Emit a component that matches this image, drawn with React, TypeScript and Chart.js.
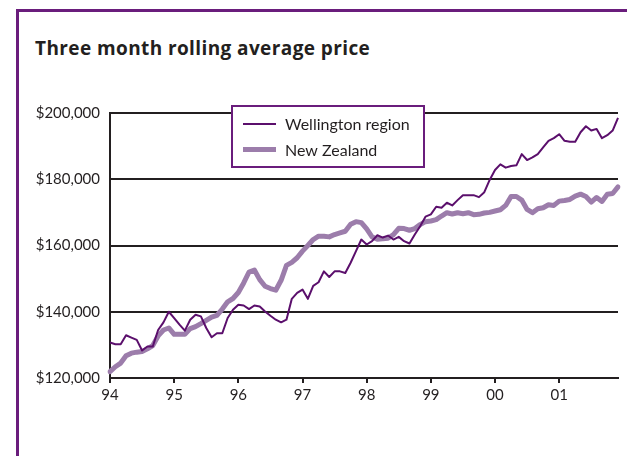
import React, { useEffect, useRef } from 'react';
import { Chart, registerables } from 'chart.js';

Chart.register(...registerables);

// ---- Data ----
const years = ['94', '95', '96', '97', '98', '99', '00', '01'];
const monthNames = ['Jan', 'Feb', 'Mar', 'Apr', 'May', 'Jun', 'Jul', 'Aug', 'Sep', 'Oct', 'Nov', 'Dec'];
const seriesNames = ['Wellington region', 'New Zealand'];
const chartTitle = 'Three month rolling average price';

const wellington = [
  130700, 130200, 130200, 132900, 132200, 131500, 128300, 129500, 129500, 134500, 136800, 140000,
  138100, 136100, 134300, 137600, 139100, 138600, 135100, 132300, 133500, 133500, 138100, 140600,
  142100, 141900, 140800, 141900, 141600, 140100, 138800, 137600, 136800, 137600, 143900, 145700,
  146700, 143900, 147800, 148900, 152200, 150500, 152200, 152200, 151700, 154800, 158300, 161800,
  160300, 161300, 163100, 162400, 163000, 161800, 162600, 161300, 160600, 163300, 165800, 168700,
  169400, 171700, 171400, 172900, 172100, 173700, 175200, 175200, 175200, 174600, 176100, 179800,
  182800, 184500, 183500, 184000, 184200, 187600, 185800, 186600, 187600, 189600, 191600, 192400,
  193600, 191600, 191300, 191300, 194200, 196000, 194700, 195200, 192400, 193300, 194700, 198500,
];

const newZealand = [
  121900, 123400, 124500, 126700, 127500, 127800, 128000, 128800, 129800, 132700, 134500, 135100,
  133200, 133200, 133200, 134900, 135500, 136400, 137400, 138400, 138900, 140800, 143000, 144000,
  145800, 148700, 152000, 152600, 149700, 147700, 147000, 146500, 149500, 154000, 154900, 156300,
  158300, 160000, 161800, 162800, 162800, 162600, 163300, 163800, 164300, 166400, 167200, 166900,
  165000, 162600, 161900, 162000, 162200, 163300, 165200, 165100, 164600, 165100, 166300, 167200,
  167400, 167800, 168900, 169900, 169500, 169900, 169600, 169900, 169300, 169400, 169800, 170000,
  170400, 170800, 172100, 174800, 174800, 173700, 170900, 169900, 171100, 171400, 172300, 172100,
  173400, 173600, 173900, 174900, 175500, 174800, 173100, 174500, 173300, 175500, 175700, 177700,
];

const yMin = 120000;
const yMax = 200000;
const yStep = 20000;

// ---- Styles ----
const INK = '#231f20';
const PURPLE = '#5b0f6c';
const LILAC = '#9c7dab';
const FRAME = '#6a1d7c';
const FONT = 'Lato, "Open Sans", sans-serif';
const TITLE_FONT = '"Open Sans", Lato, sans-serif';

const legendBox = {
  id: 'legendBox',
  afterDatasetsDraw(chart: any) {
    const { ctx, chartArea } = chart;
    const x = chartArea.left + 122;
    const y = chartArea.top - 7;
    const w = 192;
    const h = 61;
    ctx.save();
    ctx.fillStyle = '#ffffff';
    ctx.fillRect(x, y, w, h);
    ctx.strokeStyle = FRAME;
    ctx.lineWidth = 2;
    ctx.strokeRect(x, y, w, h);
    chart.data.datasets.forEach((ds: any, i: number) => {
      const ly = y + 18 + i * 25.5;
      ctx.strokeStyle = ds.borderColor;
      ctx.lineWidth = ds.borderWidth;
      ctx.lineCap = 'butt';
      ctx.beginPath();
      ctx.moveTo(x + 11, ly);
      ctx.lineTo(x + 44, ly);
      ctx.stroke();
      ctx.fillStyle = INK;
      ctx.font = `16px ${FONT}`;
      ctx.textBaseline = 'middle';
      ctx.textAlign = 'left';
      ctx.fillText(ds.label, x + 53, ly + 1);
    });
    ctx.restore();
  },
};

export default function App() {
  const ref = useRef<HTMLCanvasElement>(null);

  useEffect(() => {
    const labels = years.flatMap((y) => monthNames.map((m) => `${m} ${y}`));
    const chart = new Chart(ref.current as HTMLCanvasElement, {
      type: 'line',
      data: {
        labels,
        datasets: [
          {
            label: seriesNames[0],
            data: wellington,
            borderColor: PURPLE,
            borderWidth: 2,
            pointRadius: 0,
            tension: 0,
            order: 0,
            borderJoinStyle: 'round',
          },
          {
            label: seriesNames[1],
            data: newZealand,
            borderColor: LILAC,
            borderWidth: 5,
            pointRadius: 0,
            tension: 0,
            order: 1,
            borderJoinStyle: 'round',
            borderCapStyle: 'round',
          },
        ],
      },
      options: {
        responsive: false,
        animation: false,
        devicePixelRatio: 1,
        layout: { padding: { left: 34, right: 9, top: 113, bottom: 0 } },
        plugins: {
          legend: { display: false },
          tooltip: { enabled: false },
          title: { display: false },
        },
        scales: {
          x: {
            type: 'category',
            afterBuildTicks: (s: any) => {
              s.ticks = s.ticks.filter((t: any) => t.value % 12 === 0);
            },
            afterFit: (s: any) => {
              s.height = 78;
            },
            grid: { drawOnChartArea: false, drawTicks: true, tickLength: 5, color: INK, lineWidth: 2 },
            border: { display: true, color: INK, width: 2 },
            ticks: {
              autoSkip: false,
              maxRotation: 0,
              padding: 3,
              color: INK,
              font: { family: FONT, size: 15 },
              callback: (v: any) => years[Number(v) / 12],
            },
          },
          y: {
            min: yMin,
            max: yMax,
            afterFit: (s: any) => {
              s.width = 76;
            },
            grid: { color: INK, lineWidth: 2, drawTicks: false },
            border: { display: true, color: INK, width: 2 },
            ticks: {
              stepSize: yStep,
              padding: 10,
              color: INK,
              font: { family: FONT, size: 15 },
              callback: (v: any) => '$' + Number(v).toLocaleString('en-US'),
            },
          },
        },
      },
      plugins: [legendBox],
    });
    return () => chart.destroy();
  }, []);

  return (
    <div
      style={{
        position: 'absolute',
        left: 0,
        top: 0,
        width: 627,
        height: 456,
        overflow: 'hidden',
        background: '#fff',
      }}
    >
      <div
        style={{
          position: 'absolute',
          left: 16,
          top: 9,
          width: 700,
          height: 500,
          borderLeft: `3px solid ${FRAME}`,
          borderTop: `3px solid ${FRAME}`,
        }}
      />
      <div
        style={{
          position: 'absolute',
          left: 35,
          top: 39,
          fontFamily: TITLE_FONT,
          fontWeight: 700,
          fontSize: 19,
          lineHeight: '19px',
          letterSpacing: '0.4px',
          color: INK,
          whiteSpace: 'nowrap',
        }}
      >
        {chartTitle}
      </div>
      <canvas ref={ref} width={627} height={456} style={{ position: 'absolute', left: 0, top: 0 }} />
    </div>
  );
}
